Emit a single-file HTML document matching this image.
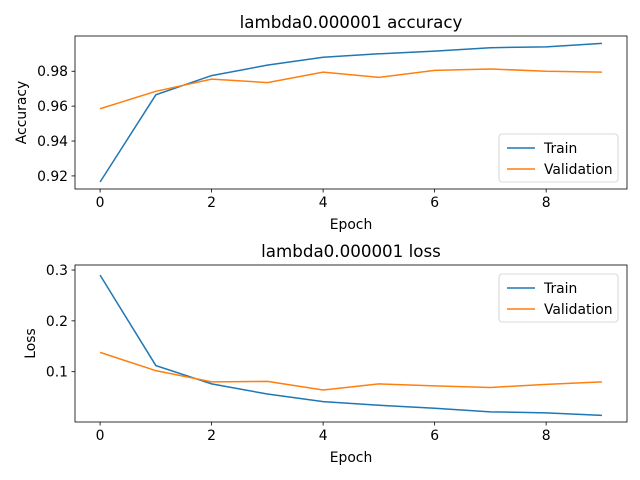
<!DOCTYPE html>
<html><head><meta charset="utf-8"><style>
html,body{margin:0;padding:0;background:#fff;}
svg{display:block;font-family:"DejaVu Sans","Liberation Sans",sans-serif;}
</style></head><body>
<svg id="chart" width="640" height="480" viewBox="0 0 640 480" xmlns="http://www.w3.org/2000/svg"></svg>
<script>
const epochs = [0,1,2,3,4,5,6,7,8,9];
const accTrain = [0.9165,0.9665,0.9775,0.9835,0.988,0.990,0.9915,0.9935,0.994,0.996];
const accVal = [0.9585,0.9685,0.9755,0.9735,0.9795,0.9765,0.9805,0.9813,0.980,0.9795];
const lossTrain = [0.290,0.112,0.076,0.056,0.041,0.034,0.028,0.021,0.019,0.014];
const lossVal = [0.138,0.102,0.080,0.081,0.064,0.076,0.072,0.069,0.075,0.080];
const xTicks = [0,2,4,6,8];
const accTicks = [0.92,0.94,0.96,0.98];
const lossTicks = [0.1,0.2,0.3];

const NS='http://www.w3.org/2000/svg';
const svg=document.getElementById('chart');
function mk(tag,attrs,parent){const e=document.createElementNS(NS,tag);for(const k in attrs)e.setAttribute(k,attrs[k]);(parent||svg).appendChild(e);return e;}

function panel(p){
  const g=mk('g',{});
  
  
  const xs=v=>p.x0+(v-p.xmin)/(p.xmax-p.xmin)*(p.x1-p.x0);
  const ys=v=>p.y1-(v-p.ymin)/(p.ymax-p.ymin)*(p.y1-p.y0);
  // series
  p.series.forEach(s=>{
    const pts=epochs.map((e,i)=>xs(e).toFixed(2)+','+ys(s.vals[i]).toFixed(2)).join(' ');
    const l=mk('polyline',{points:pts,fill:'none',stroke:s.color,'stroke-width':1.5},g);
    
    
  });
  // frame
  const r=mk('rect',{x:p.x0,y:p.y0,width:p.x1-p.x0,height:p.y1-p.y0,fill:'none',stroke:'#000','stroke-width':0.8},g);
  
  
  xTicks.forEach(t=>{
    const x=xs(t);
    mk('line',{x1:x,x2:x,y1:p.y1,y2:p.y1+3.5,stroke:'#000','stroke-width':0.8},g);
    const tx=mk('text',{x:x,y:p.y1+18,'text-anchor':'middle','font-size':13.9},g);
    tx.textContent=t;
    
    
  });
  p.yticks.forEach(t=>{
    const y=ys(t);
    mk('line',{x1:p.x0-3.5,x2:p.x0,y1:y,y2:y,stroke:'#000','stroke-width':0.8},g);
    const tx=mk('text',{x:p.x0-7,y:y+5,'text-anchor':'end','font-size':13.9},g);
    tx.textContent=p.fmt(t);
    
    
  });
  const title=mk('text',{x:(p.x0+p.x1)/2,y:p.y0-8,'text-anchor':'middle','font-size':16.7},g);
  title.textContent=p.title;
  
  
  const xl=mk('text',{x:(p.x0+p.x1)/2,y:p.y1+40,'text-anchor':'middle','font-size':13.9},g);
  xl.textContent='Epoch';
  
  
  const yc=(p.y0+p.y1)/2;
  const yl=mk('text',{x:p.ylx,y:yc,'text-anchor':'middle','font-size':13.9,transform:`rotate(-90 ${p.ylx} ${yc})`},g);
  yl.textContent=p.ylabel;
  
  
  // legend
  const lg=mk('g',{},g);
  
  
  mk('rect',{x:p.lx,y:p.ly,width:119,height:48,rx:3,fill:'#fff','fill-opacity':0.8,stroke:'#ccc','stroke-width':0.8},lg);
  p.series.forEach((s,i)=>{
    const yy=p.ly+14+i*21;
    mk('line',{x1:p.lx+8,x2:p.lx+36,y1:yy,y2:yy,stroke:s.color,'stroke-width':1.5},lg);
    const t=mk('text',{x:p.lx+45,y:yy+5,'font-size':13.9},lg);
    t.textContent=s.label;
    
    
  });
}
panel({name:'accuracy-panel',x0:75,x1:627,y0:36,y1:189,xmin:-0.45,xmax:9.45,ymin:0.9125,ymax:1.0002,
  yticks:accTicks,fmt:v=>v.toFixed(2),title:'lambda0.000001 accuracy',ylabel:'Accuracy',ylx:26,lx:499,ly:134,
  series:[{id:'accuracy-train-line',vals:accTrain,color:'#1f77b4',label:'Train'},{id:'accuracy-validation-line',vals:accVal,color:'#ff7f0e',label:'Validation'}]});
panel({name:'loss-panel',x0:75,x1:627,y0:265,y1:422,xmin:-0.45,xmax:9.45,ymin:0.001,ymax:0.3099,
  yticks:lossTicks,fmt:v=>v.toFixed(1),title:'lambda0.000001 loss',ylabel:'Loss',ylx:35,lx:499,ly:274,
  series:[{id:'loss-train-line',vals:lossTrain,color:'#1f77b4',label:'Train'},{id:'loss-validation-line',vals:lossVal,color:'#ff7f0e',label:'Validation'}]});
</script>
</body></html>
